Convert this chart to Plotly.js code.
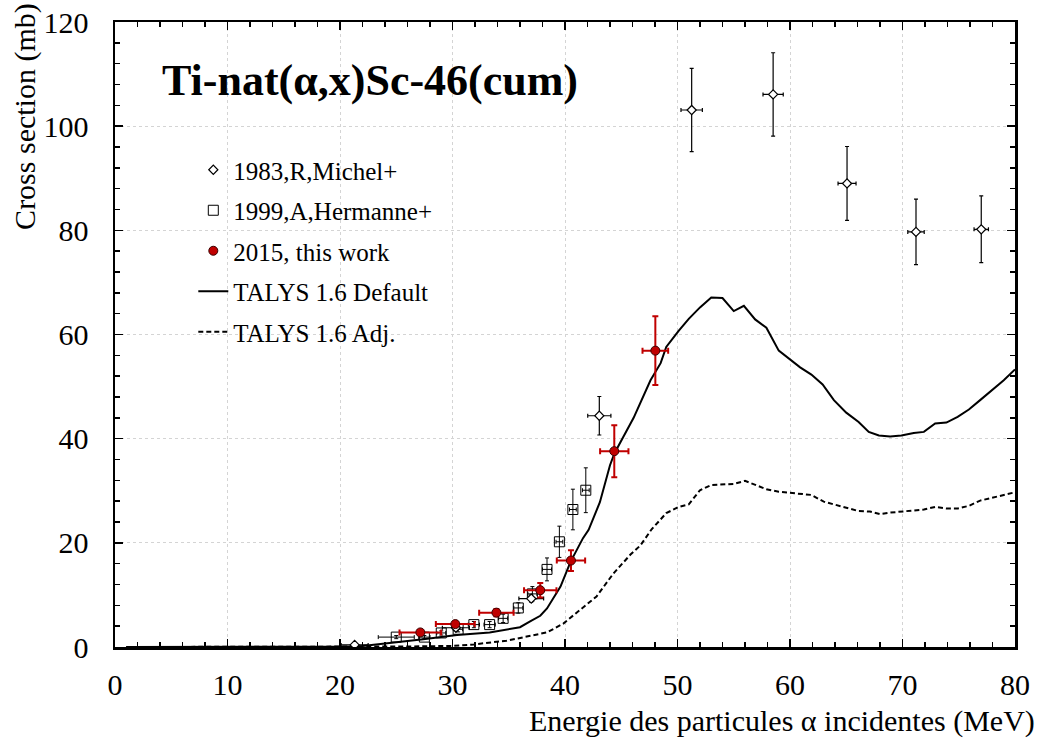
<!DOCTYPE html>
<html>
<head>
<meta charset="utf-8">
<script src="https://cdn.plot.ly/plotly-3.0.1.min.js"></script>
<style>html,body{margin:0;padding:0;background:#fff;}#chart{width:1038px;height:738px;}</style>
</head>
<body>
<div id="chart"></div>
<script>
// ---- Data ----
const michelE   = [21.3, 30.3, 37.0, 43.05, 51.26, 58.5, 65.07, 71.2, 77.0];
const michelXS  = [0.4, 3.7, 9.3, 44.4, 103.1, 106.1, 89.0, 79.7, 80.2];
const michelDXS = [0.1, 0.3, 0.7, 3.7, 8.0, 8.0, 7.1, 6.3, 6.4];
const michelDE  = [1.2, 1.2, 1.1, 1.03, 0.95, 0.9, 0.8, 0.73, 0.64];

const hermE   = [25.0, 27.5, 29.0, 30.5, 31.9, 33.3, 34.5, 35.85, 37.1, 38.4, 39.5, 40.7, 41.85];
const hermXS  = [1.9, 1.9, 2.7, 3.4, 4.3, 4.3, 5.5, 7.5, 10.2, 14.9, 20.2, 26.4, 30.1];
const hermDXS = [0.3, 0.3, 0.4, 0.5, 0.6, 0.6, 0.8, 1.0, 1.4, 2.2, 3.0, 3.9, 4.3];
const hermDE  = [1.6, 0.5, 0.4, 0.4, 0.5, 0.5, 0.4, 0.4, 0.4, 0.4, 0.3, 0.3, 0.3];

const workE   = [27.14, 30.25, 33.9, 37.8, 40.53, 44.38, 48.03];
const workXS  = [2.8, 4.4, 6.6, 10.9, 16.6, 37.6, 56.9];
const workDXS = [0.4, 0.5, 0.7, 1.4, 2.0, 5.0, 6.6];
const workDE  = [1.85, 1.73, 1.53, 1.44, 1.26, 1.26, 1.14];

const talysDefE  = [1, 20, 21, 22, 23, 25, 27.4, 30.4, 33.3, 34.8, 36, 36.9, 37.8, 38.4, 39.6, 40.5, 41.6, 42.1, 43.1, 44.0, 44.4, 46.1, 47.6, 48.5, 49.0, 50.1, 51, 52.0, 53.0, 54.0, 55.0, 55.9, 56.9, 57.9, 59.0, 60.9, 61.9, 62.9, 63.9, 65.0, 66.1, 67.0, 67.9, 68.9, 69.9, 71.0, 71.9, 72.9, 73.9, 74.9, 75.9, 76.9, 78.1, 79.0, 80];
const talysDefXS = [0, 0, 0.05, 0.2, 0.4, 0.9, 1.5, 2.3, 2.8, 3.3, 3.8, 4.9, 6.0, 7.4, 11.6, 16.4, 20.9, 22.5, 27.8, 34.9, 37.2, 44.0, 51.2, 54.5, 57.6, 60.7, 63.0, 65.2, 67.1, 67.0, 64.5, 65.5, 62.9, 61.3, 56.9, 53.7, 52.3, 50.4, 47.4, 45.0, 43.2, 41.3, 40.6, 40.4, 40.6, 41.1, 41.3, 42.9, 43.1, 44.2, 45.6, 47.4, 49.5, 51.2, 53.3];

const talysAdjE  = [1, 22, 26, 30, 31.9, 33.5, 34.8, 36.6, 37.8, 38.4, 39.85, 41.3, 42.8, 44.3, 45.8, 46.7, 47.7, 49.0, 50.1, 51.0, 52.0, 53.0, 55.0, 56.0, 57.9, 59.0, 60.9, 61.9, 63.0, 64.0, 65.0, 66.1, 67.1, 68.0, 68.9, 69.9, 71.0, 71.9, 72.9, 73.9, 74.9, 75.9, 76.9, 78.1, 79.0, 80];
const talysAdjXS = [0, 0, 0.1, 0.2, 0.5, 0.9, 1.2, 2.0, 2.6, 2.8, 4.5, 7.1, 9.7, 14.1, 17.7, 19.5, 22.6, 25.7, 26.9, 27.4, 30.1, 31.1, 31.3, 31.9, 30.3, 29.8, 29.5, 29.2, 27.9, 27.3, 26.7, 26.1, 26.0, 25.5, 25.8, 26.0, 26.3, 26.4, 26.9, 26.6, 26.6, 27.1, 28.1, 28.7, 29.2, 29.7];

const seriesNames = ['1983,R,Michel+', '1999,A,Hermanne+', '2015, this work', 'TALYS 1.6 Default', 'TALYS 1.6 Adj.'];
const chartTitle = 'Ti-nat(α,x)Sc-46(cum)';
const xTitle = 'Energie des particules α incidentes (MeV)';
const yTitle = 'Cross section (mb)';

// ---- Styles ----
const FONT = '"Liberation Serif", "Times New Roman", serif';
const RED = '#c00000';

const traces = [
  {x: talysDefE, y: talysDefXS, mode: 'lines', name: seriesNames[3], legendrank: 4, legendgroup: 'd',
   line: {color: '#000', width: 2}},
  {x: talysAdjE, y: talysAdjXS, mode: 'lines', name: seriesNames[4], legendrank: 5, legendgroup: 'e',
   line: {color: '#000', width: 2, dash: '5px,3px'}},
  {x: hermE, y: hermXS, mode: 'markers', name: seriesNames[1], legendrank: 2, legendgroup: 'b',
   marker: {symbol: 'square', size: 10, color: 'rgba(255,255,255,0)', line: {color: '#000', width: 1}},
   error_y: {type: 'data', array: hermDXS, color: '#000', thickness: 1, width: 2},
   error_x: {type: 'data', array: hermDE, color: '#000', thickness: 1, width: 2}},
  {x: michelE, y: michelXS, mode: 'markers', name: seriesNames[0], legendrank: 1, legendgroup: 'a',
   marker: {symbol: 'diamond', size: 7, color: '#fff', line: {color: '#000', width: 1.2}},
   error_y: {type: 'data', array: michelDXS, color: '#000', thickness: 1.2, width: 2},
   error_x: {type: 'data', array: michelDE, color: '#000', thickness: 1.2, width: 2}},
  {x: workE, y: workXS, mode: 'markers', name: seriesNames[2], legendrank: 3, legendgroup: 'c',
   marker: {symbol: 'circle', size: 9, color: RED, line: {color: '#3a0000', width: 1}},
   error_y: {type: 'data', array: workDXS, color: RED, thickness: 2, width: 3},
   error_x: {type: 'data', array: workDE, color: RED, thickness: 2, width: 3}}
];

const axisCommon = {
  showline: true, linecolor: '#000', linewidth: 2.5, mirror: 'allticks',
  ticks: 'inside', ticklen: 8, tickwidth: 1.5, tickcolor: '#000',
  showgrid: true, gridcolor: '#d4d4d4', griddash: 'dot', gridwidth: 1,
  zeroline: false,
  tickfont: {family: FONT, size: 30, color: '#000'}
};

const layout = {
  width: 1038, height: 738,
  margin: {l: 115, r: 23, t: 22, b: 91, pad: 0},
  paper_bgcolor: '#fff', plot_bgcolor: '#fff',
  font: {family: FONT, color: '#000'},
  showlegend: true,
  legend: {x: 0.087, y: 0.8, xanchor: 'left', yanchor: 'top', bgcolor: 'rgba(0,0,0,0)',
           font: {family: FONT, size: 25, color: '#000'}, tracegroupgap: 5, traceorder: 'grouped'},
  xaxis: Object.assign({}, axisCommon, {range: [0, 80], dtick: 10, tick0: 0, ticklabelstandoff: 9,
    minor: {dtick: 2, ticks: 'inside', ticklen: 5, tickwidth: 1.5, tickcolor: '#000', showgrid: false}}),
  yaxis: Object.assign({}, axisCommon, {range: [0, 120], dtick: 20, tick0: 0, ticklabelstandoff: 18,
    minor: {dtick: 4, ticks: 'inside', ticklen: 5, tickwidth: 1.5, tickcolor: '#000', showgrid: false}}),
  annotations: [
    {text: '<b>' + chartTitle + '</b>', xref: 'paper', yref: 'paper', x: 0.05, y: 0.907,
     xanchor: 'left', yanchor: 'middle', showarrow: false, font: {family: FONT, size: 44, color: '#000'}},
    {text: xTitle, xref: 'paper', yref: 'paper', x: 1.024, y: -0.118, xanchor: 'right', yanchor: 'middle',
     showarrow: false, font: {family: FONT, size: 30, color: '#000'}},
    {text: yTitle, xref: 'paper', yref: 'paper', x: -0.1, y: 1.033, xanchor: 'center', yanchor: 'top',
     textangle: -90, showarrow: false, font: {family: FONT, size: 30, color: '#000'}}
  ]
};

Plotly.newPlot('chart', traces, layout, {displayModeBar: false, staticPlot: true});
</script>
</body>
</html>
